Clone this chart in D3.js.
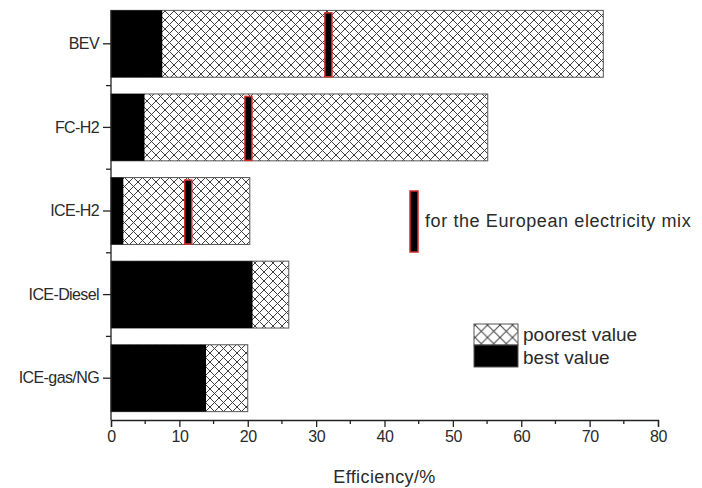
<!DOCTYPE html>
<html>
<head>
<meta charset="utf-8">
<script src="https://cdn.jsdelivr.net/npm/d3@7"></script>
<style>
  body { margin: 0; background: #fff; }
  text { font-family: "Liberation Sans", Arial, sans-serif; fill: #2a2a2a; }
</style>
</head>
<body>
<svg width="702" height="488"></svg>
<script>
const categories = ["BEV", "FC-H2", "ICE-H2", "ICE-Diesel", "ICE-gas/NG"];
const bestValues = [7.5, 4.9, 1.8, 20.7, 13.9];
const poorestValues = [72, 55.1, 20.3, 26.0, 20.0];
// value for the European electricity mix (only for the first three)
const euMixValues = [31.8, 20.1, 11.3, null, null];
const xTicks = [0, 10, 20, 30, 40, 50, 60, 70, 80];
const xMinorTicks = [5, 15, 25, 35, 45, 55, 65, 75];

const svg = d3.select("svg");
const margin = { left: 111, right: 44, top: 2, bottom: 68 };
const width = 702 - margin.left - margin.right;
const height = 488 - margin.top - margin.bottom;
const g = svg.append("g").attr("transform", `translate(${margin.left},${margin.top})`);

const data = categories.map((c, i) => ({
  name: c, best: bestValues[i], poorest: poorestValues[i], eu: euMixValues[i]
}));

const x = d3.scaleLinear().domain([0, 80]).range([0, width]);
const y = d3.scaleBand().domain(categories).range([0, height])
  .paddingInner(0.2).paddingOuter(0.1);

// cross hatch patterns
const defs = svg.append("defs");
function hatch(id, size) {
  const p = defs.append("pattern").attr("id", id)
    .attr("patternUnits", "userSpaceOnUse")
    .attr("width", size).attr("height", size);
  p.append("rect").attr("width", size).attr("height", size).attr("fill", "#fff");
  p.append("path")
    .attr("d", `M0,0L${size},${size}M0,${size}L${size},0`)
    .attr("stroke", "#404040").attr("stroke-width", 1);
}
hatch("xhatch", 9);
hatch("xhatchBig", 12.5);

// poorest (hatched) bars
g.selectAll(".poor")
  .data(data)
  .enter()
  .append("rect")
  .attr("class", "poor")
  .attr("x", x(0))
  .attr("y", d => y(d.name))
  .attr("width", d => x(d.poorest) - x(0))
  .attr("height", y.bandwidth())
  .attr("fill", "url(#xhatch)")
  .attr("stroke", "#555")
  .attr("stroke-width", 1);

// best (black) bars
g.selectAll(".best")
  .data(data)
  .enter()
  .append("rect")
  .attr("class", "best")
  .attr("x", x(0))
  .attr("y", d => y(d.name))
  .attr("width", d => x(d.best) - x(0))
  .attr("height", y.bandwidth())
  .attr("fill", "#000");

// European electricity mix markers
const markW = 7;
g.selectAll(".eu")
  .data(data.filter(d => d.eu != null))
  .enter()
  .append("rect")
  .attr("class", "eu")
  .attr("x", d => x(d.eu) - markW / 2)
  .attr("y", d => y(d.name) + 2.5)
  .attr("width", markW)
  .attr("height", y.bandwidth() - 3)
  .attr("fill", "#000")
  .attr("stroke", "#d42a2a")
  .attr("stroke-width", 1.5);

// x axis
const xAxis = g.append("g")
  .attr("transform", `translate(0,${height})`)
  .call(d3.axisBottom(x).tickValues(xTicks).tickSize(7).tickPadding(4));
xAxis.select(".domain").attr("stroke", "#222").attr("stroke-width", 1.3);
xAxis.selectAll(".tick line").attr("stroke", "#222").attr("stroke-width", 1.3);
xAxis.selectAll("text").style("font-size", "16px").style("letter-spacing", "-0.5px").attr("fill", "#2a2a2a");

const xMinor = g.append("g").attr("transform", `translate(0,${height})`);
xMinor.selectAll("line")
  .data(xMinorTicks)
  .enter()
  .append("line")
  .attr("x1", d => x(d)).attr("x2", d => x(d))
  .attr("y1", 0).attr("y2", 4)
  .attr("stroke", "#222").attr("stroke-width", 1.3);

// y axis
const yAxis = g.append("g")
  .call(d3.axisLeft(y).tickSize(8).tickPadding(4).tickSizeOuter(0));
yAxis.select(".domain").remove();
yAxis.selectAll(".tick line").attr("stroke", "#222").attr("stroke-width", 1.3);
yAxis.selectAll("text").style("font-size", "16px").style("letter-spacing", "-0.6px").attr("fill", "#2a2a2a");

g.append("line")
  .attr("x1", 0).attr("x2", 0)
  .attr("y1", y(categories[0])).attr("y2", height)
  .attr("stroke", "#222").attr("stroke-width", 1.3);

// minor ticks between categories
const gapMid = (y.step() - y.bandwidth()) / 2;
g.selectAll(".yminor")
  .data(categories.slice(0, -1))
  .enter()
  .append("line")
  .attr("class", "yminor")
  .attr("x1", -5).attr("x2", 0)
  .attr("y1", d => y(d) + y.bandwidth() + gapMid)
  .attr("y2", d => y(d) + y.bandwidth() + gapMid)
  .attr("stroke", "#222").attr("stroke-width", 1.3);

// x axis title
svg.append("text")
  .attr("x", margin.left + x(40))
  .attr("y", 483)
  .attr("text-anchor", "middle")
  .style("font-size", "18px")
  .style("letter-spacing", "0.4px")
  .text("Efficiency/%");

// legend: European electricity mix
svg.append("rect")
  .attr("x", 410).attr("y", 191)
  .attr("width", 8).attr("height", 61)
  .attr("fill", "#000")
  .attr("stroke", "#d42a2a").attr("stroke-width", 1.5);
svg.append("text")
  .attr("x", 425).attr("y", 227)
  .style("font-size", "18px")
  .style("letter-spacing", "0.6px")
  .text("for the European electricity mix");

// legend: poorest / best
svg.append("rect")
  .attr("x", 474).attr("y", 324).attr("width", 44).attr("height", 21)
  .attr("fill", "url(#xhatchBig)").attr("stroke", "#555");
svg.append("rect")
  .attr("x", 474).attr("y", 345).attr("width", 44).attr("height", 22)
  .attr("fill", "#000").attr("stroke", "#555");
svg.append("text").attr("x", 523).attr("y", 341).style("font-size", "19px").text("poorest value");
svg.append("text").attr("x", 523).attr("y", 364).style("font-size", "19px").text("best value");
</script>
</body>
</html>
